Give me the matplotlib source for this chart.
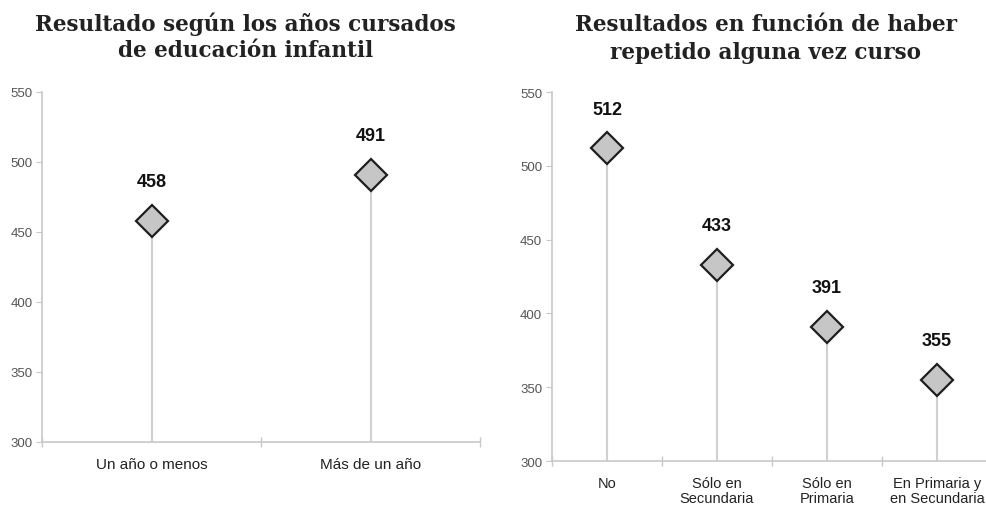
import matplotlib.pyplot as plt

# Resultados por años de educación infantil
cat_infantil = ['Un año o menos', 'Más de un año']
val_infantil = [458, 491]

# Resultados según repetición de curso
cat_repite = ['No', 'Sólo en\nSecundaria', 'Sólo en\nPrimaria', 'En Primaria y\nen Secundaria']
val_repite = [512, 433, 391, 355]

yticks = [300, 350, 400, 450, 500, 550]

plt.rcParams['font.family'] = ['Liberation Sans', 'DejaVu Sans']

fig = plt.figure(figsize=(9.87, 5.10), dpi=100)
ax1 = fig.add_axes([0.0426, 0.1314, 0.4438, 0.6863])
ax2 = fig.add_axes([0.5593, 0.0941, 0.4458, 0.7235])

axis_grey = '#c8c8c8'


def lollipop(ax, cats, vals, label_size):
    n = len(cats)
    x = list(range(n))
    ax.vlines(x, 300, vals, color='#d0d0d0', lw=1.5, zorder=1)
    ax.plot(x, vals, ls='none', marker='D', ms=16, mfc='#c6c6c6',
            mec='#1e1e1e', mew=1.6, zorder=3)
    for xi, v in zip(x, vals):
        ax.annotate(str(v), (xi, v), xytext=(0, 28), textcoords='offset points',
                    ha='center', va='center', fontsize=13, fontweight='bold',
                    color='#111111')
    ax.set_xlim(-0.5, n - 0.5)
    ax.set_ylim(300, 550)
    ax.set_yticks(yticks)
    ax.set_xticks(x)
    ax.set_xticklabels(cats, fontsize=label_size, color='#222222', linespacing=1.05)
    ax.set_xticks([i - 0.5 for i in range(n + 1)], minor=True)
    ax.tick_params(axis='x', which='major', length=0, pad=11)
    ax.tick_params(axis='x', which='minor', direction='inout', length=7,
                   color=axis_grey, width=1)
    ax.tick_params(axis='y', direction='out', length=4, color=axis_grey,
                   labelsize=9.5, labelcolor='#555555', pad=3)
    for s in ['top', 'right']:
        ax.spines[s].set_visible(False)
    for s in ['left', 'bottom']:
        ax.spines[s].set_color(axis_grey)
        ax.spines[s].set_linewidth(1.2)


lollipop(ax1, cat_infantil, val_infantil, 11)
lollipop(ax2, cat_repite, val_repite, 10.5)

title_kw = dict(ha='center', va='baseline', family='DejaVu Serif',
                fontweight='bold', fontsize=15.5, color='#222222')
fig.text(0.249, 0.939, 'Resultado según los años cursados', **title_kw)
fig.text(0.249, 0.888, 'de educación infantil', **title_kw)
fig.text(0.776, 0.939, 'Resultados en función de haber', **title_kw)
fig.text(0.776, 0.884, 'repetido alguna vez curso', **title_kw)

fig.savefig('out.png', dpi=100)
